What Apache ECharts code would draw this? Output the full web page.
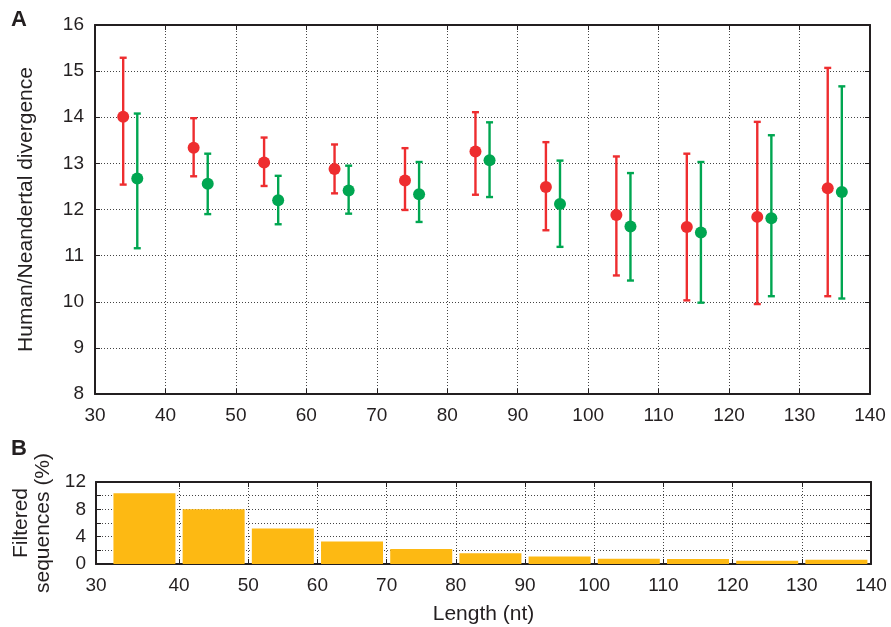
<!DOCTYPE html>
<html>
<head>
<meta charset="utf-8">
<script src="https://cdn.jsdelivr.net/npm/echarts@6/dist/echarts.min.js"></script>
<style>
html,body{margin:0;padding:0;background:#fff;}
#c{width:891px;height:627px;}
</style>
</head>
<body>
<div id="c"></div>
<script>
// ---- Panel A data ----
const redX   = [34, 44, 54, 64, 74, 84, 94, 104, 114, 124, 134];
const redMean= [14.01, 13.34, 13.02, 12.88, 12.63, 13.26, 12.49, 11.88, 11.62, 11.84, 12.46];
const redLow = [12.54, 12.72, 12.51, 12.35, 11.99, 12.32, 11.55, 10.57, 10.03, 9.95, 10.12];
const redHigh= [15.29, 13.98, 13.56, 13.41, 13.33, 14.11, 13.46, 13.15, 13.21, 13.90, 15.07];

const greenX   = [36, 46, 56, 66, 76, 86, 96, 106, 116, 126, 136];
const greenMean= [12.67, 12.56, 12.20, 12.41, 12.33, 13.07, 12.12, 11.63, 11.50, 11.81, 12.38];
const greenLow = [11.16, 11.90, 11.68, 11.91, 11.73, 12.27, 11.19, 10.46, 9.98, 10.12, 10.07];
const greenHigh= [14.08, 13.21, 12.73, 12.95, 13.03, 13.89, 13.06, 12.79, 13.03, 13.61, 14.67];

// ---- Panel B data ----
const binCenters = [35, 45, 55, 65, 75, 85, 95, 105, 115, 125, 135];
const filteredPct = [10.34, 8.03, 5.19, 3.28, 2.2, 1.57, 1.08, 0.78, 0.74, 0.49, 0.64];
const bTickValues = [28, 40, 50, 60, 70, 80, 90, 100, 110, 120, 130, 140];
const bTickLabels = ['30', '40', '50', '60', '70', '80', '90', '100', '110', '120', '130', '140'];
const bYLabelValues = [0, 4, 8, 12];

const RED = '#ee2d2f';
const GREEN = '#00a651';
const BAR = '#fdb913';
const FONT = 'Liberation Sans, Arial, Helvetica, sans-serif';
const TXT = '#231f20';

const chart = echarts.init(document.getElementById('c'), null, {renderer: 'canvas'});

function errSeries(name, xs, lo, hi, color) {
  return {
    name: name, type: 'custom', xAxisIndex: 0, yAxisIndex: 0,
    data: xs.map((x, i) => [x, lo[i], hi[i]]),
    renderItem: function (params, api) {
      const x = api.value(0);
      const pHi = api.coord([x, api.value(2)]);
      const pLo = api.coord([x, api.value(1)]);
      const w = 3.5;
      const st = {stroke: color, lineWidth: 2.4};
      return {
        type: 'group',
        children: [
          {type: 'line', shape: {x1: pHi[0], y1: pHi[1], x2: pLo[0], y2: pLo[1]}, style: st},
          {type: 'line', shape: {x1: pHi[0] - w, y1: pHi[1], x2: pHi[0] + w, y2: pHi[1]}, style: st},
          {type: 'line', shape: {x1: pLo[0] - w, y1: pLo[1], x2: pLo[0] + w, y2: pLo[1]}, style: st}
        ]
      };
    },
    z: 2
  };
}

const gridLine = {show: true, lineStyle: {color: '#444', type: [1, 2], width: 1}};
const axisLineStyle = {show: true, onZero: false, lineStyle: {color: '#231f20', width: 2}};
const labelStyle = {color: TXT, fontFamily: FONT, fontSize: 19};
const nameStyle = {color: TXT, fontFamily: FONT, fontSize: 21};
const tickIn = {show: true, inside: true, length: 5, lineStyle: {color: TXT}};

const option = {
  animation: false,
  backgroundColor: '#fff',
  textStyle: {fontFamily: FONT},
  graphic: [
    {type: 'text', left: 11, top: 9, style: {text: 'A', font: 'bold 22px ' + FONT, fill: TXT}},
    {type: 'text', left: 11, top: 438, style: {text: 'B', font: 'bold 22px ' + FONT, fill: TXT}}
  ],
  grid: [
    {left: 95, top: 25, width: 775, height: 369},
    {left: 96, top: 482, width: 775, height: 82}
  ],
  xAxis: [
    {gridIndex: 0, type: 'value', min: 30, max: 140, interval: 10,
      axisLine: axisLineStyle, axisTick: tickIn,
      axisLabel: Object.assign({margin: 12}, labelStyle), splitLine: gridLine},
    {gridIndex: 0, type: 'value', min: 30, max: 140, interval: 10, position: 'top',
      axisLine: axisLineStyle, axisTick: tickIn,
      axisLabel: {show: false}, splitLine: {show: false}},
    {gridIndex: 1, type: 'value', min: 28, max: 140,
      name: 'Length (nt)', nameLocation: 'middle', nameGap: 40,
      nameTextStyle: nameStyle,
      axisLine: axisLineStyle,
      axisTick: Object.assign({customValues: bTickValues}, tickIn),
      axisLabel: Object.assign({margin: 12, customValues: bTickValues,
        formatter: function (v) { const i = bTickValues.indexOf(v); return i >= 0 ? bTickLabels[i] : ''; }}, labelStyle),
      splitLine: gridLine},
    {gridIndex: 1, type: 'value', min: 28, max: 140, position: 'top',
      axisLine: axisLineStyle,
      axisTick: Object.assign({customValues: bTickValues}, tickIn),
      axisLabel: {show: false}, splitLine: {show: false}}
  ],
  yAxis: [
    {gridIndex: 0, type: 'value', min: 8, max: 16, interval: 1,
      name: 'Human/Neandertal divergence', nameLocation: 'middle', nameGap: 58, nameRotate: 90,
      nameTextStyle: nameStyle,
      axisLine: axisLineStyle, axisTick: tickIn,
      axisLabel: Object.assign({margin: 11}, labelStyle), splitLine: gridLine},
    {gridIndex: 0, type: 'value', min: 8, max: 16, interval: 1, position: 'right',
      axisLine: axisLineStyle, axisTick: tickIn,
      axisLabel: {show: false}, splitLine: {show: false}},
    {gridIndex: 1, type: 'value', min: 0, max: 12, interval: 2,
      name: 'Filtered\nsequences (%)', nameLocation: 'middle', nameGap: 41, nameRotate: 90,
      nameTextStyle: Object.assign({lineHeight: 22}, nameStyle),
      axisLine: axisLineStyle, axisTick: tickIn,
      axisLabel: Object.assign({margin: 10, customValues: bYLabelValues, showMinLabel: true, showMaxLabel: true,
        formatter: function (v) { return bYLabelValues.indexOf(v) >= 0 ? String(v) : ''; }}, labelStyle),
      splitLine: gridLine},
    {gridIndex: 1, type: 'value', min: 0, max: 12, interval: 2, position: 'right',
      axisLine: axisLineStyle, axisTick: tickIn,
      axisLabel: {show: false}, splitLine: {show: false}}
  ],
  series: [
    errSeries('red-err', redX, redLow, redHigh, RED),
    errSeries('green-err', greenX, greenLow, greenHigh, GREEN),
    {name: 'red', type: 'scatter', xAxisIndex: 0, yAxisIndex: 0, symbol: 'circle', symbolSize: 12,
      itemStyle: {color: RED, opacity: 1}, data: redX.map((x, i) => [x, redMean[i]]), z: 3},
    {name: 'green', type: 'scatter', xAxisIndex: 0, yAxisIndex: 0, symbol: 'circle', symbolSize: 12,
      itemStyle: {color: GREEN, opacity: 1}, data: greenX.map((x, i) => [x, greenMean[i]]), z: 3},
    {name: 'filtered', type: 'bar', xAxisIndex: 2, yAxisIndex: 2, barWidth: 62,
      itemStyle: {color: BAR}, data: binCenters.map((x, i) => [x, filteredPct[i]]), z: 1}
  ]
};
chart.setOption(option);
</script>
</body>
</html>
